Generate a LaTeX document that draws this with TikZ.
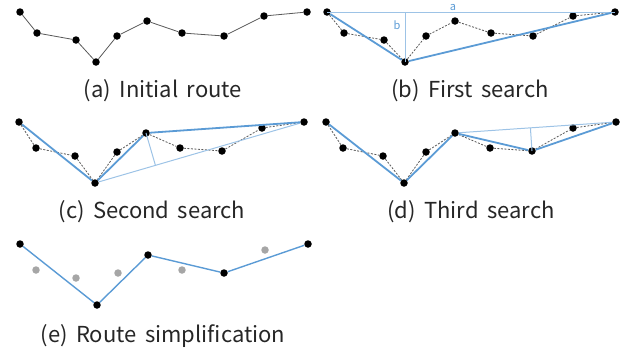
\documentclass[tikz,border=0pt]{standalone}
\usepackage{fontspec}
\setmainfont{Noto Sans CJK KR}[WordSpace=1.7]
\usetikzlibrary{calc}
\definecolor{bluethick}{HTML}{5B9BD5}
\definecolor{bluelight}{HTML}{9DC3E6}
\definecolor{dotgray}{HTML}{A6A6A6}
\definecolor{routegray}{HTML}{595959}
\begin{document}
\begin{tikzpicture}[x=1pt,y=-1pt,
  dot/.style={circle,fill=black,inner sep=0pt,minimum size=7.5pt},
  greydot/.style={circle,fill=dotgray,inner sep=0pt,minimum size=7.5pt},
  plainroute/.style={draw=routegray,line width=0.8pt},
  dashroute/.style={draw=routegray,dash pattern=on 2pt off 1.5pt,line width=0.8pt},
  simp/.style={draw=bluethick,line width=1.8pt},
  simpthin/.style={draw=bluethick,line width=1.4pt},
  guide/.style={draw=bluelight,line width=1pt},
  caption/.style={font=\fontsize{22}{26}\selectfont,anchor=base,text=black!85},
  letter/.style={font=\fontsize{11}{13}\selectfont,text=bluethick,inner sep=0pt}]
\useasboundingbox (0,0) rectangle (625,351);

% ---------- (a) ----------
\foreach \p [count=\i] in {(20,12),(37,33),(76,40),(96,62),(117,36),(147,21),(182,33),(224,36),(264,16),(307,12)}
  \node[dot] (a\i) at \p {};
\foreach \i [evaluate=\i as \j using int(\i+1)] in {1,...,9}
  \draw[plainroute] (a\i) -- (a\j);
\node[caption] (capa) at (163,97) {(a) Initial route};

% ---------- (b) ----------
\foreach \p [count=\i] in {(327,12),(344,33),(384,40),(405,62),(426,36),(455,21),(491,33),(533,36),(573,16),(615,12)}
  \node[dot] (b\i) at \p {};
\foreach \i [evaluate=\i as \j using int(\i+1)] in {1,...,9}
  \draw[dashroute] (b\i) -- (b\j);
\coordinate (bfoot) at ($(b1.center)!(b4.center)!(b10.center)$);
\draw[guide] (b1.center) -- (b10.center);
\draw[guide] (b4.center) -- (bfoot);
\draw[simp] (b1) -- (b4) -- (b10);
\node[letter,anchor=base] (la) at (453,10) {a};
\node[letter] (lb) at (397,25) {b};
\node[caption] (capb) at (470,97) {(b) First search};

% ---------- (c) ----------
\foreach \p [count=\i] in {(19,122),(36,148),(75,156),(95,183),(117,152),(146,133),(180,148),(222,151),(262,128),(304,122)}
  \node[dot] (c\i) at \p {};
\foreach \i [evaluate=\i as \j using int(\i+1)] in {1,...,9}
  \draw[dashroute] (c\i) -- (c\j);
\coordinate (cfoot) at ($(c4.center)!(c6.center)!(c10.center)$);
\draw[guide] (c4) -- (c10);
\draw[guide] (c6.center) -- (cfoot);
\draw[simp] (c1) -- (c4);
\draw[simp] (c4) -- (c6);
\draw[simp] (c6) -- (c10);
\node[caption] (capc) at (152,218) {(c) Second search};

% ---------- (d) ----------
\foreach \p [count=\i] in {(326,122),(343,148),(383,156),(404,183),(426,152),(455,133),(490,148),(532,151),(573,128),(616,122)}
  \node[dot] (d\i) at \p {};
\foreach \i [evaluate=\i as \j using int(\i+1)] in {1,...,9}
  \draw[dashroute] (d\i) -- (d\j);
\coordinate (dfoot) at ($(d6.center)!(d8.center)!(d10.center)$);
\draw[guide] (d6) -- (d10);
\draw[guide] (d8.center) -- (dfoot);
\draw[simp] (d1) -- (d4);
\draw[simp] (d4) -- (d6);
\draw[simp] (d6) -- (d8);
\draw[simp] (d8) -- (d10);
\node[caption] (capd) at (471,218) {(d) Third search};

% ---------- (e) ----------
\node[dot] (e1) at (20,244) {};
\node[greydot] (e2) at (36,270) {};
\node[greydot] (e3) at (76,278) {};
\node[dot] (e4) at (97,305) {};
\node[greydot] (e5) at (118,273) {};
\node[dot] (e6) at (148,255) {};
\node[greydot] (e7) at (182,270) {};
\node[dot] (e8) at (224,273) {};
\node[greydot] (e9) at (265,250) {};
\node[dot] (e10) at (308,244) {};
\draw[simpthin] (e1) -- (e4);
\draw[simpthin] (e4) -- (e6);
\draw[simpthin] (e6) -- (e8);
\draw[simpthin] (e8) -- (e10);
\node[caption] (cape) at (163,342) {(e) Route simplification};
\end{tikzpicture}
\end{document}
